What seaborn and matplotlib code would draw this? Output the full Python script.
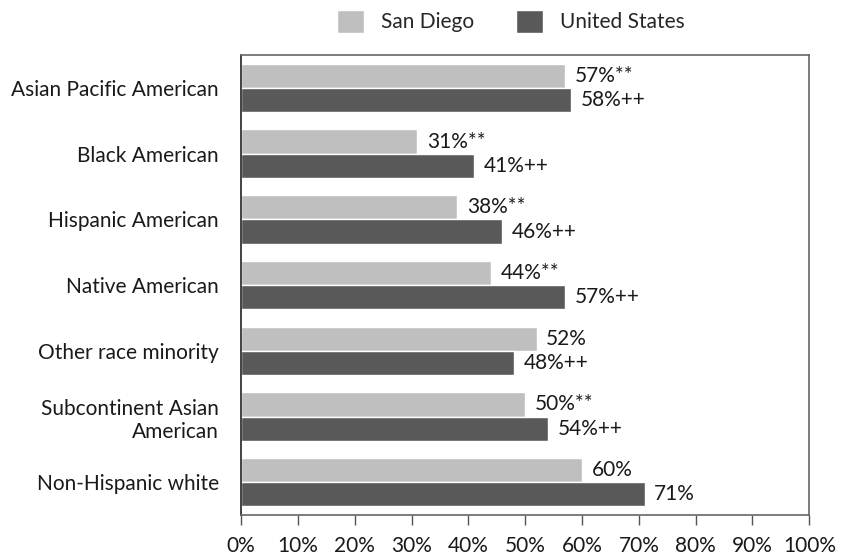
import pandas as pd
import seaborn as sns
import matplotlib.pyplot as plt
from matplotlib.ticker import FuncFormatter

# Data
categories = ["Asian Pacific American", "Black American", "Hispanic American",
              "Native American", "Other race minority",
              "Subcontinent Asian\nAmerican", "Non-Hispanic white"]
san_diego = [57, 31, 38, 44, 52, 50, 60]
united_states = [58, 41, 46, 57, 48, 54, 71]
sd_labels = ["57%**", "31%**", "38%**", "44%**", "52%", "50%**", "60%"]
us_labels = ["58%++", "41%++", "46%++", "57%++", "48%++", "54%++", "71%"]
series = ["San Diego", "United States"]

df = pd.DataFrame({
    "group": categories * 2,
    "value": san_diego + united_states,
    "series": [series[0]] * len(categories) + [series[1]] * len(categories),
})

sns.set_theme(style="white")
plt.rcParams['font.family'] = ['Lato', 'DejaVu Sans']
fs = 15

fig = plt.figure(figsize=(8.43, 5.58), dpi=100)
ax = fig.add_axes([0.286, 0.077, 0.674, 0.824])

sns.barplot(data=df, y="group", x="value", hue="series", orient="h",
            palette=["#bfbfbf", "#595959"], width=0.74, gap=0,
            saturation=1, ax=ax, legend=True)

for cont, labs in zip(ax.containers, [sd_labels, us_labels]):
    ax.bar_label(cont, labels=labs, padding=7, fontsize=fs, color="#1a1a1a")

ax.set_xlim(0, 100)
ax.set_xticks(range(0, 101, 10))
ax.xaxis.set_major_formatter(FuncFormatter(lambda v, p: f"{int(v)}%"))
ax.set_xlabel("")
ax.set_ylabel("")
ax.tick_params(axis="x", bottom=True, length=7, width=1, color="#555555",
               labelsize=fs, pad=8, labelcolor="#1a1a1a")
ax.tick_params(axis="y", left=False, labelsize=fs, pad=10, labelcolor="#1a1a1a")
for s in ax.spines.values():
    s.set_color("#666666")
    s.set_linewidth(1.2)
ax.spines["left"].set_color("#222222")

ax.get_legend().remove()
handles, labels = ax.get_legend_handles_labels()
fig.legend(handles[:2], series, loc="center", bbox_to_anchor=(0.606, 0.962),
           ncol=2, frameon=False, fontsize=fs, handlelength=1.3,
           handleheight=1.3, columnspacing=2.0, handletextpad=0.8)

fig.savefig("out.png", dpi=100)
